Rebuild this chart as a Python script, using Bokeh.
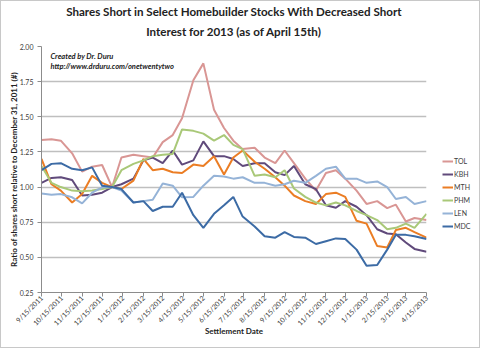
import pandas as pd
from math import pi
from bokeh.plotting import figure
from bokeh.layouts import row
from bokeh.models import (Range1d, FixedTicker, Title, Legend, LegendItem, Label,
                          NumeralTickFormatter)
from bokeh.embed import file_html
from bokeh.resources import INLINE

dates = ["2011-09-15", "2011-09-30", "2011-10-14", "2011-10-31", "2011-11-15", "2011-11-30",
         "2011-12-15", "2011-12-30", "2012-01-13", "2012-01-31", "2012-02-15", "2012-02-29",
         "2012-03-15", "2012-03-30", "2012-04-13", "2012-04-30", "2012-05-15", "2012-05-31",
         "2012-06-15", "2012-06-29", "2012-07-13", "2012-07-31", "2012-08-15", "2012-08-31",
         "2012-09-14", "2012-09-28", "2012-10-15", "2012-10-31", "2012-11-15", "2012-11-30",
         "2012-12-14", "2012-12-31", "2013-01-15", "2013-01-31", "2013-02-15", "2013-02-28",
         "2013-03-15", "2013-03-28", "2013-04-15"]

TOL = [1.335, 1.34, 1.33, 1.24, 1.11, 1.145, 1.157, 1.0, 1.21, 1.23, 1.22, 1.21, 1.32, 1.37,
       1.49, 1.76, 1.88, 1.55, 1.42, 1.33, 1.27, 1.28, 1.21, 1.17, 1.26, 1.17, 1.06, 0.975,
       1.10, 1.12, 1.06, 0.975, 0.88, 0.90, 0.85, 0.875, 0.755, 0.78, 0.765]
KBH = [1.03, 1.065, 1.07, 1.05, 0.94, 0.946, 0.96, 1.0, 1.02, 1.06, 1.19, 1.21, 1.17, 1.26,
       1.16, 1.19, 1.325, 1.22, 1.22, 1.20, 1.15, 1.17, 1.17, 1.105, 1.085, 1.15, 1.02, 0.985,
       0.87, 0.853, 0.90, 0.86, 0.80, 0.70, 0.67, 0.665, 0.606, 0.56, 0.54]
MTH = [1.20, 1.02, 0.975, 0.89, 0.95, 1.08, 1.03, 1.0, 0.986, 1.046, 1.20, 1.12, 1.13, 1.105,
       1.10, 1.16, 1.15, 1.22, 1.09, 1.21, 1.26, 1.18, 1.13, 1.07, 1.01, 0.94, 0.90, 0.88,
       0.95, 0.96, 0.93, 0.76, 0.74, 0.58, 0.57, 0.695, 0.71, 0.68, 0.64]
PHM = [1.15, 1.03, 1.0, 0.975, 0.97, 0.975, 0.986, 1.0, 1.12, 1.165, 1.19, 1.22, 1.23, 1.236,
       1.41, 1.40, 1.38, 1.33, 1.37, 1.30, 1.27, 1.08, 1.09, 1.07, 1.12, 0.99, 0.93, 0.89,
       0.87, 0.89, 0.87, 0.83, 0.80, 0.765, 0.70, 0.71, 0.74, 0.71, 0.81]
LEN = [0.955, 0.946, 0.95, 0.927, 0.884, 0.96, 0.998, 1.0, 0.975, 0.89, 0.90, 0.91, 1.025, 1.01,
       0.927, 0.93, 1.01, 1.08, 1.075, 1.06, 1.07, 1.03, 1.03, 1.01, 1.02, 1.045, 1.03, 1.08,
       1.13, 1.145, 1.06, 1.06, 1.03, 1.04, 1.0, 0.915, 0.93, 0.88, 0.90]
MDC = [1.12, 1.165, 1.17, 1.13, 1.12, 1.14, 1.01, 1.0, 0.986, 0.89, 0.90, 0.83, 0.86, 0.86,
       0.96, 0.80, 0.71, 0.81, 0.87, 0.93, 0.79, 0.72, 0.65, 0.64, 0.68, 0.645, 0.64, 0.595,
       0.615, 0.635, 0.63, 0.555, 0.44, 0.446, 0.555, 0.66, 0.66, 0.65, 0.63]

series_names = ["TOL", "KBH", "MTH", "PHM", "LEN", "MDC"]
series_values = [TOL, KBH, MTH, PHM, LEN, MDC]
series_colors = ["#D99694", "#604A7B", "#EB7D24", "#A9C878", "#95B3D7", "#3C6BA5"]

tick_dates = ["2011-09-15", "2011-10-15", "2011-11-15", "2011-12-15", "2012-01-15",
              "2012-02-15", "2012-03-15", "2012-04-15", "2012-05-15", "2012-06-15",
              "2012-07-15", "2012-08-15", "2012-09-15", "2012-10-15", "2012-11-15",
              "2012-12-15", "2013-01-15", "2013-02-15", "2013-03-15", "2013-04-15"]
tick_labels = ["9/15/2011", "10/15/2011", "11/15/2011", "12/15/2011", "1/15/2012",
               "2/15/2012", "3/15/2012", "4/15/2012", "5/15/2012", "6/15/2012",
               "7/15/2012", "8/15/2012", "9/15/2012", "10/15/2012", "11/15/2012",
               "12/15/2012", "1/15/2013", "2/15/2013", "3/15/2013", "4/15/2013"]
y_ticks = [0.25, 0.50, 0.75, 1.00, 1.25, 1.50, 1.75, 2.00]

title_lines = ["Shares Short in Select Homebuilder Stocks With Decreased Short",
               "Interest for 2013 (as of April 15th)"]
x_title = "Settlement Date"
y_title = "Ratio of shares short relative to December 31, 2011 (#)"
notes = ["Created by Dr. Duru", "http://www.drduru.com/onetwentytwo"]

FONT = "Lato"


def ms(d):
    return pd.Timestamp(d).value / 1e6


x = pd.to_datetime(dates)
tick_ms = [ms(d) for d in tick_dates]

# ---------------- main chart ----------------
p = figure(width=428, height=346, x_axis_type="datetime",
           x_range=Range1d(ms(tick_dates[0]), ms(tick_dates[-1])),
           y_range=Range1d(y_ticks[0], y_ticks[-1]),
           output_backend="svg", toolbar_location=None, title=None,
           min_border_left=40, min_border_right=3, min_border_top=45, min_border_bottom=55)
p.outline_line_color = None
p.background_fill_color = "white"
p.border_fill_color = "white"

# second title line (nearest the plot) hangs from the top of its panel,
# first line sits on the bottom of its own panel
p.add_layout(Title(text=title_lines[1], align="center", vertical_align="top",
                   text_font=FONT, text_font_size="11.6px", text_font_style="bold",
                   text_color="#222222", standoff=14), "above")
p.add_layout(Title(text=title_lines[0], align="center", vertical_align="bottom",
                   text_font=FONT, text_font_size="11.6px", text_font_style="bold",
                   text_color="#222222", standoff=0), "above")

p.xgrid.visible = False
p.ygrid.grid_line_color = "#BFBFBF"
p.ygrid.grid_line_width = 1.3
p.ygrid.ticker = FixedTicker(ticks=y_ticks)

ya = p.yaxis[0]
ya.ticker = FixedTicker(ticks=y_ticks)
ya.formatter = NumeralTickFormatter(format="0.00")
ya.major_label_text_font = FONT
ya.major_label_text_font_size = "7px"
ya.major_label_text_color = "#404040"
ya.axis_line_color = "#8C8C8C"
ya.major_tick_line_color = "#8C8C8C"
ya.major_tick_out = 4
ya.major_tick_in = 0
ya.minor_tick_line_color = None
ya.major_label_standoff = 4
ya.axis_label = y_title
ya.axis_label_text_font = FONT
ya.axis_label_text_font_size = "8px"
ya.axis_label_text_font_style = "bold"
ya.axis_label_text_color = "#222222"
ya.axis_label_standoff = -2

xa = p.xaxis[0]
xa.ticker = FixedTicker(ticks=tick_ms)
xa.major_label_overrides = {t: lab for t, lab in zip(tick_ms, tick_labels)}
xa.major_label_orientation = pi / 4
xa.major_label_text_font = FONT
xa.major_label_text_font_size = "7px"
xa.major_label_text_color = "#404040"
xa.axis_line_color = "#8C8C8C"
xa.major_tick_line_color = "#8C8C8C"
xa.major_tick_out = 4
xa.major_tick_in = 0
xa.minor_tick_line_color = None
xa.major_label_standoff = 0
xa.axis_label = x_title
xa.axis_label_text_font = FONT
xa.axis_label_text_font_size = "8px"
xa.axis_label_text_font_style = "bold"
xa.axis_label_text_color = "#222222"
xa.axis_label_standoff = -7

for name, vals, col in zip(series_names, series_values, series_colors):
    p.line(x, vals, line_color=col, line_width=2)

for j, txt in enumerate(notes):
    p.add_layout(Label(x=9, y=236 - 10 * j, x_units="screen", y_units="screen", text=txt,
                       text_font=FONT, text_font_size="7.5px", text_font_style="bold italic",
                       text_color="#222222", text_baseline="middle"))

# ---------------- legend strip on the right ----------------
# the same series are attached here but fall outside this strip's ranges,
# so only their legend swatches show
lf = figure(width=50, height=346, output_backend="svg", toolbar_location=None,
            x_range=Range1d(0, 1), y_range=Range1d(0, 1),
            x_axis_location=None, y_axis_location=None, title=None,
            min_border_left=0, min_border_right=0, min_border_top=0, min_border_bottom=0)
lf.outline_line_color = None
lf.grid.visible = False
lf.background_fill_color = "white"
lf.border_fill_color = "white"
items = []
for name, vals, col in zip(series_names, series_values, series_colors):
    r = lf.line(x, vals, line_color=col, line_width=2)
    items.append(LegendItem(label=name, renderers=[r]))
legend = Legend(items=items, location=(13, 60), padding=0, margin=0,
                border_line_color=None, background_fill_alpha=0,
                glyph_width=11, glyph_height=12, label_height=12, spacing=1,
                label_standoff=1, label_text_font=FONT, label_text_font_size="7px",
                label_text_color="#404040")
lf.add_layout(legend)

layout = row(p, lf)
layout.styles = {"border": "1px solid #C8C8C8"}

open("out.html", "w").write(file_html(layout, INLINE))
